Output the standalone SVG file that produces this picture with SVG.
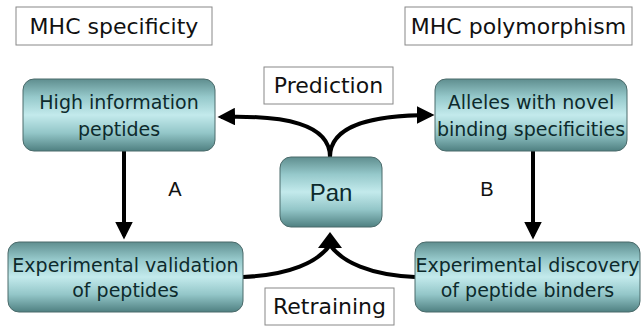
<svg xmlns="http://www.w3.org/2000/svg" width="643" height="326" viewBox="0 0 643 326">
<defs>
<linearGradient id="g" x1="0" y1="0" x2="0" y2="1">
<stop offset="0" stop-color="#5f8e8f"/>
<stop offset="0.25" stop-color="#96c9cb"/>
<stop offset="0.5" stop-color="#c3eaec"/>
<stop offset="0.75" stop-color="#93c6c8"/>
<stop offset="1" stop-color="#4f8081"/>
</linearGradient>
<marker id="ah" viewBox="0 0 10 10" refX="8" refY="5" markerWidth="4.4" markerHeight="4.4" orient="auto" markerUnits="strokeWidth">
<path d="M0,0 L10,5 L0,10 z" fill="#000"/>
</marker>
</defs>
<style>
.lbl{fill:#fff;stroke:#888;stroke-width:1}
.node{fill:url(#g);stroke:#4a6a6a;stroke-width:1}
.t{font-family:"Comic Sans MS","DejaVu Sans",sans-serif;fill:#111;text-anchor:middle}
.big{font-size:22px}
.nt{font-size:19px;fill:#0d2a2c}
.pan{font-family:"Liberation Sans",Arial,sans-serif;font-size:24px;fill:#0d2a2c;text-anchor:middle}
.c{fill:none;stroke:#000;stroke-width:4}
.ab{font-family:"Liberation Sans",Arial,sans-serif;font-size:20px;fill:#111;text-anchor:middle}
</style>
<g id="label-mhc-specificity"><rect class="lbl" x="16" y="7" width="196" height="38"/><text class="t big" x="114" y="34">MHC specificity</text></g>
<g id="label-mhc-polymorphism"><rect class="lbl" x="405" y="7" width="227" height="38"/><text class="t big" x="518.5" y="34">MHC polymorphism</text></g>
<g id="label-prediction"><rect class="lbl" x="264" y="67" width="129" height="37"/><text class="t big" x="328.5" y="93">Prediction</text></g>
<g id="label-retraining"><rect class="lbl" x="265" y="288" width="129" height="37"/><text class="t big" x="329.5" y="314">Retraining</text></g>
<g id="connectors">
<path class="c" d="M124,151 L124,236" marker-end="url(#ah)"/>
<path class="c" d="M533,151 L533,236" marker-end="url(#ah)"/>
<path class="c" d="M330,157 C330,124 285,115 221,117" marker-end="url(#ah)"/>
<path class="c" d="M330,157 C330,124 375,115 431,115" marker-end="url(#ah)"/>
<path class="c" d="M243,277 C290,275 318,262 330,245"/>
<path class="c" d="M415,277 C370,275 342,262 330,245"/>
<polygon points="330,232 342,248 318,248" fill="#000"/>
</g>
<g id="node-high-info"><rect class="node" x="23" y="79" width="192" height="72" rx="11"/><text class="t nt" x="119" y="109">High information</text><text class="t nt" x="119" y="136">peptides</text></g>
<g id="node-alleles"><rect class="node" x="435" y="79" width="192" height="72" rx="11"/><text class="t nt" x="531" y="109">Alleles with novel</text><text class="t nt" x="531" y="136">binding specificities</text></g>
<g id="node-pan"><rect class="node" x="280" y="157" width="102" height="70" rx="11"/><text class="pan" x="331" y="201">Pan</text></g>
<g id="node-exp-validation"><rect class="node" x="8" y="242" width="235" height="70" rx="11"/><text class="t nt" x="125.5" y="272">Experimental validation</text><text class="t nt" x="125.5" y="297">of peptides</text></g>
<g id="node-exp-discovery"><rect class="node" x="415" y="242" width="225" height="70" rx="11"/><text class="t nt" x="527.5" y="272">Experimental discovery</text><text class="t nt" x="527.5" y="297">of peptide binders</text></g>
<text class="ab" x="175" y="196">A</text>
<text class="ab" x="487" y="196">B</text>
</svg>
